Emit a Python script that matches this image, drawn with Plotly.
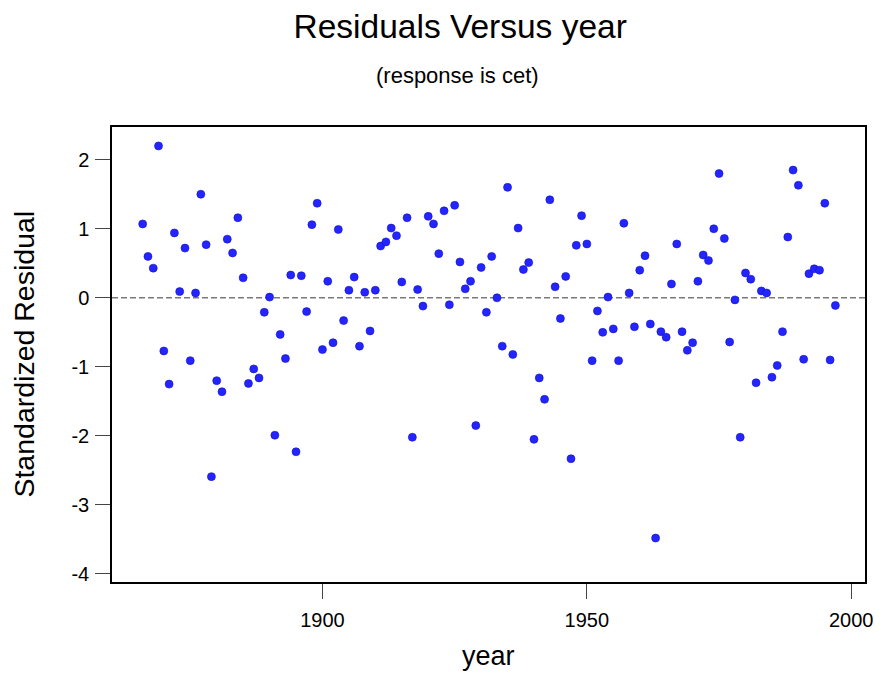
import plotly.graph_objects as go

# Standardized residuals of the cet regression, one per year
years = list(range(1866, 1998))
std_resid = [
    # 1866-1875
    1.07, 0.60, 0.43, 2.20, -0.77, -1.25, 0.94, 0.09, 0.72, -0.91,
    # 1876-1885
    0.07, 1.50, 0.77, -2.59, -1.20, -1.36, 0.85, 0.65, 1.16, 0.29,
    # 1886-1895
    -1.24, -1.03, -1.16, -0.21, 0.01, -1.99, -0.53, -0.88, 0.33, -2.23,
    # 1896-1905
    0.32, -0.20, 1.06, 1.37, -0.75, 0.24, -0.65, 0.99, -0.33, 0.11,
    # 1906-1915
    0.30, -0.70, 0.08, -0.48, 0.11, 0.75, 0.81, 1.01, 0.90, 0.23,
    # 1916-1925
    1.16, -2.02, 0.12, -0.12, 1.18, 1.07, 0.64, 1.26, -0.10, 1.34,
    # 1926-1935
    0.52, 0.13, 0.24, -1.85, 0.44, -0.21, 0.60, 0.00, -0.70, 1.60,
    # 1936-1945
    -0.82, 1.01, 0.41, 0.51, -2.05, -1.16, -1.47, 1.42, 0.16, -0.30,
    # 1946-1955
    0.31, -2.33, 0.76, 1.19, 0.78, -0.91, -0.19, -0.50, 0.01, -0.45,
    # 1956-1965
    -0.91, 1.08, 0.07, -0.42, 0.40, 0.61, -0.38, -3.48, -0.49, -0.57,
    # 1966-1975
    0.20, 0.78, -0.49, -0.76, -0.65, 0.24, 0.62, 0.54, 1.00, 1.80,
    # 1976-1985
    0.86, -0.64, -0.03, -2.02, 0.36, 0.27, -1.23, 0.10, 0.07, -1.15,
    # 1986-1997
    -0.98, -0.49, 0.88, 1.85, 1.63, -0.89, 0.35, 0.42, 0.40, 1.37, -0.90, -0.11,
]

x_ticks = [1900, 1950, 2000]
y_ticks = [-4, -3, -2, -1, 0, 1, 2]
y_tick_labels = ["-4", "-3", "-2", "-1", "0", "1", "2"]

FONT = "Liberation Sans, Arial, sans-serif"

fig = go.Figure()
fig.add_trace(go.Scatter(
    x=years, y=std_resid, mode="markers",
    marker=dict(size=8, color="#2424ff", line=dict(width=0.6, color="#1010c8")),
    showlegend=False, hoverinfo="x+y",
))

# reference line at zero
fig.add_shape(type="line", xref="paper", x0=0, x1=1, yref="y", y0=0, y1=0,
              line=dict(color="#7a7a7a", width=1.5, dash="6px,3px"), layer="below")

axis_common = dict(
    showgrid=False, zeroline=False,
    showline=True, mirror=True, linecolor="black", linewidth=1.5,
    ticks="outside", ticklen=15, tickwidth=1, tickcolor="#444444",
    tickfont=dict(family=FONT, size=20, color="black"),
)

fig.update_layout(
    width=885, height=674,
    margin=dict(l=112, r=15, t=127, b=91.5, pad=0),
    paper_bgcolor="white", plot_bgcolor="white",
    font=dict(family=FONT, color="black"),
    title=dict(text="Residuals Versus year", x=0.52, xanchor="center",
               y=1 - 26 / 674, yanchor="middle",
               font=dict(family=FONT, size=33.5, color="black")),
    xaxis=dict(range=[1860.2, 2002.6], tickvals=x_ticks, ticklabelstandoff=4,
               **axis_common),
    yaxis=dict(range=[-4.116, 2.474], tickvals=y_ticks, ticktext=y_tick_labels,
               ticklabelstandoff=2, **axis_common),
    annotations=[
        dict(text="(response is cet)", xref="paper", yref="paper",
             x=(460 - 112) / 758, y=(582.5 - 75) / 455.5,
             xanchor="center", yanchor="middle", showarrow=False,
             font=dict(family=FONT, size=22, color="black")),
        dict(text="Standardized Residual", xref="paper", yref="paper",
             x=(22.5 - 112) / 758, y=0.5, textangle=-90,
             xanchor="center", yanchor="middle", showarrow=False,
             font=dict(family=FONT, size=28.5, color="black")),
        dict(text="year", xref="paper", yref="paper",
             x=0.5, y=(582.5 - 657) / 455.5,
             xanchor="center", yanchor="middle", showarrow=False,
             font=dict(family=FONT, size=27, color="black")),
    ],
)

fig.write_html("out.html")
